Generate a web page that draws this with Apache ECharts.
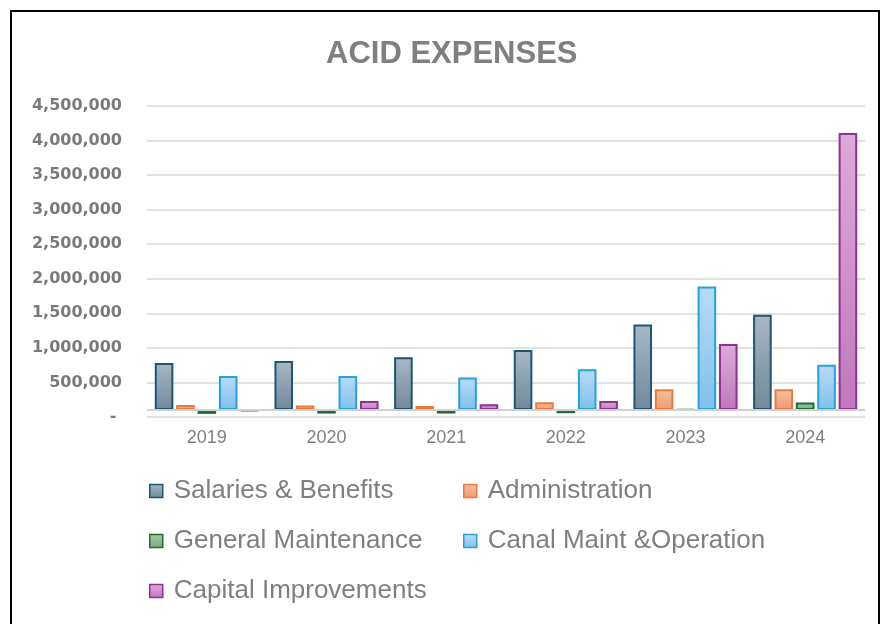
<!DOCTYPE html>
<html>
<head>
<meta charset="utf-8">
<script src="https://cdn.jsdelivr.net/npm/echarts@6/dist/echarts.min.js"></script>
<style>
  html, body { margin: 0; padding: 0; background: #ffffff; }
  #chart { width: 884px; height: 624px; }
</style>
</head>
<body>
<div id="chart"></div>
<script>
// ---- data ----
const years = ['2019', '2020', '2021', '2022', '2023', '2024'];
const seriesNames = ['Salaries & Benefits', 'Administration', 'General Maintenance', 'Canal Maint &Operation', 'Capital Improvements'];
const salaries = [780000, 810000, 865000, 970000, 1340000, 1480000];
const administration = [175000, 165000, 160000, 215000, 400000, 400000];
const generalMaintenance = [45000, 50000, 50000, 55000, 112000, 210000];
const canalMaint = [595000, 595000, 570000, 690000, 1890000, 755000];
const capitalImprovements = [85000, 230000, 185000, 230000, 1055000, 4110000];
// the category (horizontal) axis crosses the value axis at this value
const axisCross = 100000;
const yTicks = { min: 0, max: 4500000, interval: 500000 };

const allValues = [salaries, administration, generalMaintenance, canalMaint, capitalImprovements];

const styles = [
  { border: '#1f5473', top: '#a8b7c5', bottom: '#71889b' },
  { border: '#e97b3f', top: '#f7bea0', bottom: '#f09a70' },
  { border: '#1e6e2e', top: '#a7caa9', bottom: '#7aa77f' },
  { border: '#2a9fd8', top: '#b6dcf6', bottom: '#80c0ec' },
  { border: '#8f3191', top: '#dcaadb', bottom: '#bf78be' }
];

const series = [];
allValues.forEach((vals, i) => {
  const st = styles[i];
  series.push({
    type: 'bar',
    stack: 's' + i,
    silent: true,
    data: vals.map(v => Math.min(v, axisCross)),
    itemStyle: { color: 'rgba(0,0,0,0)' },
    barCategoryGap: '13%',
    barGap: '15%'
  });
  const s = {
    type: 'bar',
    name: seriesNames[i],
    stack: 's' + i,
    data: vals.map(v => Math.abs(v - axisCross)),
    barCategoryGap: '13%',
    barGap: '15%',
    itemStyle: {
      color: new echarts.graphic.LinearGradient(0, 0, 0, 1, [
        { offset: 0, color: st.top },
        { offset: 1, color: st.bottom }
      ]),
      borderColor: st.border,
      borderWidth: 2
    }
  };
  if (i === 0) {
    s.markLine = {
      silent: true,
      symbol: 'none',
      label: { show: false },
      lineStyle: { color: '#d0d0d0', width: 2, type: 'solid' },
      data: [{ yAxis: axisCross }]
    };
  }
  series.push(s);
});

const legendFont = { color: '#7f7f7f', fontSize: 26, fontFamily: 'Liberation Sans, sans-serif', padding: [0, 0, 0, 6] };
function legendAt(name, left, top) {
  return {
    data: [name], left: left, top: top, padding: 0,
    icon: 'rect',
    itemWidth: 13, itemHeight: 13, selectedMode: false,
    itemStyle: { borderWidth: 1.5 },
    textStyle: legendFont
  };
}

const chart = echarts.init(document.getElementById('chart'));
chart.setOption({
  animation: false,
  backgroundColor: '#ffffff',
  title: {
    text: 'ACID EXPENSES', left: 326, top: 39, padding: 0,
    textStyle: { color: '#7f7f7f', fontSize: 31, fontWeight: 'bold', fontFamily: 'Liberation Sans, Arial, sans-serif' }
  },
  graphic: [{
    type: 'rect', silent: true,
    shape: { x: 11, y: 11, width: 868, height: 640 },
    style: { fill: 'none', stroke: '#000000', lineWidth: 2 }
  }],
  legend: [
    legendAt(seriesNames[0], 149, 478),
    legendAt(seriesNames[1], 463, 478),
    legendAt(seriesNames[2], 149, 528),
    legendAt(seriesNames[3], 463, 528),
    legendAt(seriesNames[4], 149, 578)
  ],
  grid: { left: 147, right: 19, top: 106, bottom: 207 },
  xAxis: {
    type: 'category',
    data: years,
    axisLine: { show: false },
    axisTick: { show: false },
    axisLabel: { color: '#7f7f7f', fontSize: 18, margin: 12, fontFamily: 'Liberation Sans, sans-serif' }
  },
  yAxis: {
    type: 'value',
    min: yTicks.min, max: yTicks.max, interval: yTicks.interval,
    axisLine: { show: false },
    axisTick: { show: false },
    splitLine: { lineStyle: { color: '#d9d9d9', width: 1.5 } },
    axisLabel: {
      color: '#7a7a7a', fontSize: 16, fontWeight: 'bold', margin: 25,
      fontFamily: 'DejaVu Sans, sans-serif',
      formatter: v => v === 0 ? '- ' : v.toLocaleString('en-US')
    }
  },
  series: series
});
</script>
</body>
</html>
